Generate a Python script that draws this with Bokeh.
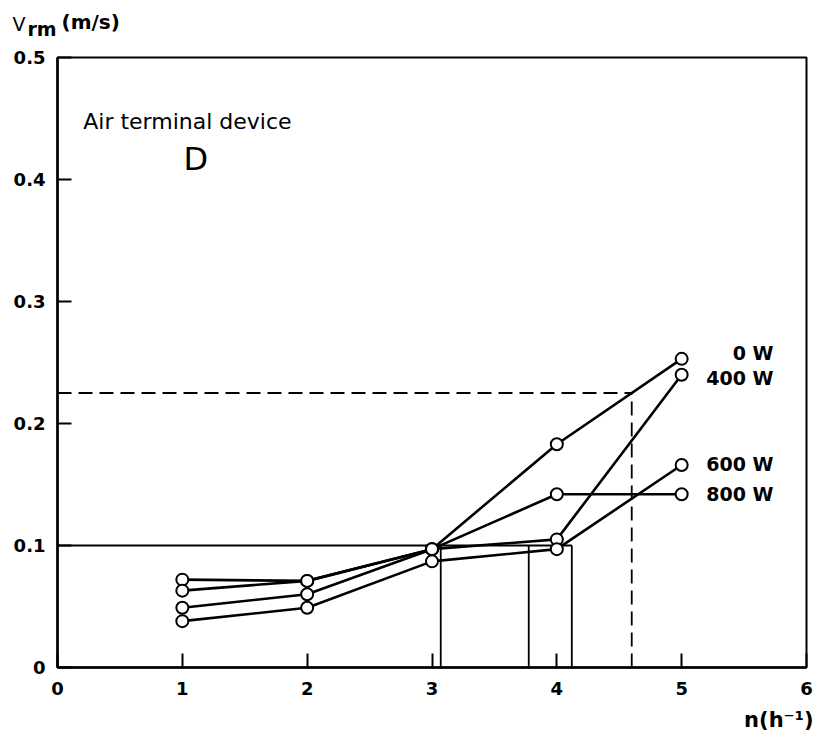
from bokeh.plotting import figure
from bokeh.models import Label, FixedTicker, Range1d
from bokeh.layouts import column
from bokeh.embed import file_html
from bokeh.resources import INLINE

# ---- data ----
n_values = [1, 2, 3, 4, 5]
v_0w = [0.072, 0.071, 0.097, 0.183, 0.253]
v_400w = [0.049, 0.060, 0.097, 0.105, 0.240]
v_600w = [0.038, 0.049, 0.087, 0.097, 0.166]
v_800w = [0.063, 0.071, 0.097, 0.142, 0.142]
series = [v_0w, v_400w, v_600w, v_800w]
series_names = ["0 W", "400 W", "600 W", "800 W"]
series_label_y = [0.258, 0.237, 0.167, 0.1426]

x_ticks = [0, 1, 2, 3, 4, 5, 6]
y_ticks = [0, 0.1, 0.2, 0.3, 0.4, 0.5]
y_tick_labels = ["0", "0.1", "0.2", "0.3", "0.4", "0.5"]

v_limit = 0.1
n_at_limit = [3.07, 3.775, 4.12]
v_dashed = 0.225
n_dashed = 4.6

FONT = "DejaVu Sans"
W = 817
HEAD_H = 40
FOOT_H = 24
MAIN_H = 732 - HEAD_H - FOOT_H


def no_frame_align(f):
    try:
        f.frame_align = False
    except Exception:
        pass


def blank(height):
    f = figure(width=W, height=height, output_backend="svg", toolbar_location=None,
               x_range=Range1d(0, W), y_range=Range1d(0, height), min_border=0,
               min_border_left=0, min_border_right=0, min_border_top=0, min_border_bottom=0,
               x_axis_location=None, y_axis_location=None, outline_line_color=None)
    f.grid.visible = False
    f.background_fill_color = "white"
    f.border_fill_color = "white"
    no_frame_align(f)
    return f


# ---- header with the y-axis title ----
header = blank(HEAD_H)
header.add_layout(Label(x=12, y=17, text="V", text_font=FONT, text_font_size="19px",
                        text_baseline="middle", text_color="black"))
header.add_layout(Label(x=27, y=11.5, text="rm", text_font=FONT, text_font_size="19px",
                        text_baseline="middle", text_font_style="bold", text_color="black"))
header.add_layout(Label(x=61, y=18.5, text="(m/s)", text_font=FONT, text_font_size="20px",
                        text_baseline="middle", text_font_style="bold", text_color="black"))

# ---- main chart ----
p = figure(width=W, height=MAIN_H, output_backend="svg", toolbar_location=None,
           x_range=Range1d(0, 6), y_range=Range1d(0, 0.5),
           min_border_left=57, min_border_right=11, min_border_top=17,
           min_border_bottom=MAIN_H - 17 - 610)
no_frame_align(p)
p.grid.visible = False
p.outline_line_color = "black"
p.outline_line_width = 2
p.background_fill_color = "white"
p.border_fill_color = "white"

for ax in (p.xaxis[0], p.yaxis[0]):
    ax.axis_line_color = "black"
    ax.axis_line_width = 2.5
    ax.major_tick_in = 14
    ax.major_tick_out = 0
    ax.major_tick_line_width = 2
    ax.minor_tick_in = 0
    ax.minor_tick_out = 0
    ax.major_label_text_font = FONT
    ax.major_label_text_font_size = "18px"
    ax.major_label_text_font_style = "bold"
    ax.major_label_text_color = "black"

p.xaxis.ticker = FixedTicker(ticks=x_ticks)
p.xaxis.major_label_standoff = 14
p.yaxis.ticker = FixedTicker(ticks=y_ticks)
p.yaxis.major_label_overrides = {t: s for t, s in zip(y_ticks, y_tick_labels)}
p.yaxis.major_label_standoff = 12

# reference lines
p.segment(x0=[0], y0=[v_limit], x1=[max(n_at_limit)], y1=[v_limit], line_color="black", line_width=1.8)
p.segment(x0=n_at_limit, y0=[0] * len(n_at_limit), x1=n_at_limit, y1=[v_limit] * len(n_at_limit),
          line_color="black", line_width=1.8)
p.segment(x0=[0, n_dashed], y0=[v_dashed, 0], x1=[n_dashed, n_dashed], y1=[v_dashed, v_dashed],
          line_color="black", line_width=1.8, line_dash="14 7")

# series
for vals in series:
    p.line(n_values, vals, line_color="black", line_width=2.6)
for vals in series:
    p.scatter(n_values, vals, marker="circle", size=12, fill_color="white",
              line_color="black", line_width=2)

for name, ly in zip(series_names, series_label_y):
    p.add_layout(Label(x=5.735, y=ly, text=name, text_align="right", text_baseline="middle",
                       text_font=FONT, text_font_size="19px", text_font_style="bold",
                       text_color="black"))

p.add_layout(Label(x=0.206, y=0.4475, text="Air terminal device", text_font=FONT,
                   text_font_size="22px", text_baseline="middle", text_color="black"))
p.add_layout(Label(x=1.01, y=0.4164, text="D", text_font=FONT,
                   text_font_size="32px", text_baseline="middle", text_color="black"))

# ---- footer with the x-axis title ----
footer = blank(FOOT_H)
footer.add_layout(Label(x=813, y=12.5, text="n(h\u207b\u00b9)", text_font=FONT,
                        text_font_size="21px", text_align="right", text_baseline="middle",
                        text_font_style="bold", text_color="black"))

layout = column(header, p, footer, spacing=0)
open("out.html", "w").write(file_html(layout, INLINE))
